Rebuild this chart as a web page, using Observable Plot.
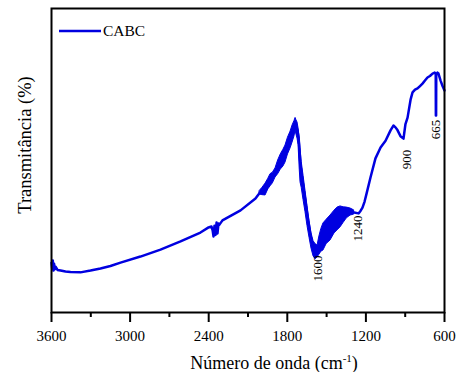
<!DOCTYPE html>
<html>
<head>
<meta charset="utf-8">
<script src="https://cdn.jsdelivr.net/npm/d3@7"></script>
<script src="https://cdn.jsdelivr.net/npm/@observablehq/plot@0.6"></script>
<style>
  html, body { margin: 0; padding: 0; background: #fff; }
  #chart { width: 459px; height: 372px; }
</style>
</head>
<body>
<div id="chart"></div>
<script>
// ---- Data ----
const seriesName = "CABC";
const wavenumber = [
  3600, 3595, 3590, 3585, 3580, 3575, 3569, 3554, 3531, 3493, 3455, 3379, 3302, 3226, 3150, 3073,
  2921, 2768, 2615, 2463, 2401, 2379, 2370, 2363, 2356, 2348, 2340, 2333, 2325, 2318, 2295, 2157,
  2043, 2010, 1966, 1928, 1890, 1850, 1814, 1775, 1760, 1737, 1722, 1714, 1705, 1699, 1690, 1676,
  1661, 1646, 1630, 1615, 1600, 1585, 1569, 1555, 1540, 1524, 1500, 1470, 1440, 1417, 1394, 1370,
  1345, 1317, 1290, 1256, 1240, 1226, 1210, 1195, 1165, 1127, 1088, 1050, 1012, 990,
  974, 959, 936, 913, 898, 882, 859, 844, 825, 806, 787, 768, 749, 730, 711, 691,
  675, 667, 666, 664, 663, 654, 646, 630, 615, 600
];
const transmittance = [
  16.4, 14.5, 17.1, 13.8, 16.0, 14.2, 15.1, 14.0, 13.8, 13.5, 13.3, 13.2, 13.8, 14.5, 15.3, 16.4,
  18.4, 20.7, 23.4, 26.3, 28.0, 28.3, 27.0, 25.0, 28.5, 25.5, 29.6, 26.0, 29.3, 28.9, 30.3, 33.6,
  37.5, 39.4, 40.4, 43.5, 45.9, 49.5, 52.1, 56.7, 58.7, 62.0, 59.8, 57.7, 52.0, 48.4, 45.2, 41.0,
  36.5, 31.7, 27.2, 23.5, 21.0, 20.0, 20.0, 22.0, 23.7, 24.8, 26.5, 27.8, 29.7, 30.7, 31.4, 32.0,
  32.7, 33.0, 32.9, 32.6, 33.5, 34.5, 36.5, 39.1, 44.4, 50.7, 54.3, 56.5, 59.9, 61.5,
  60.9, 60.0, 58.0, 57.2, 62.0, 64.1, 70.0, 72.4, 73.3, 73.7, 74.5, 75.3, 76.3, 77.3, 77.8, 78.6,
  78.9, 78.5, 64.8, 64.8, 78.3, 78.9, 78.6, 76.3, 74.5, 73.0
];
// Envelope of the noisy region (lower / upper transmittance)
const noiseWavenumber = [
  2010, 1990, 1966, 1945, 1928, 1910, 1890, 1870, 1850, 1830, 1814, 1795, 1775, 1760, 1745, 1737,
  1730, 1722, 1714, 1705, 1699, 1690, 1676, 1661, 1646, 1630, 1615, 1600, 1585, 1569, 1555, 1540,
  1524, 1500, 1470, 1440, 1417, 1394, 1370, 1345, 1317, 1290
];
const noiseLow = [
  38.8, 38.6, 38.5, 40.5, 41.5, 42.5, 44.4, 45.5, 47.0, 48.0, 49.3, 52.0, 54.0, 55.9, 58.0, 59.9,
  58.5, 57.2, 55.0, 47.0, 42.8, 41.0, 37.0, 33.0, 28.5, 24.5, 21.0, 18.5, 17.5, 18.1, 19.0, 20.0,
  20.4, 22.5, 23.7, 26.0, 27.0, 28.0, 29.5, 31.0, 31.9, 32.2
];
const noiseHigh = [
  40.0, 41.0, 42.4, 44.0, 45.5, 46.0, 47.4, 50.0, 52.0, 53.5, 54.9, 57.5, 59.5, 61.5, 63.0, 64.0,
  63.2, 62.5, 60.5, 57.0, 54.0, 49.5, 45.0, 40.0, 35.0, 30.0, 26.0, 23.5, 22.5, 22.0, 25.0, 27.5,
  29.3, 30.5, 31.9, 33.5, 34.5, 34.9, 34.6, 34.5, 34.2, 33.6
];
const majorTicks = [3600, 3000, 2400, 1800, 1200, 600];
const minorTicks = [3300, 2700, 2100, 1500, 900];
const annLabels = ["1600", "1240", "900", "665"];
const annX = [1565, 1265, 890, 668];
const annY = [14.5, 27.6, 50.3, 60.2];

const data = wavenumber.map((w, i) => ({w, t: transmittance[i]}));
const band = noiseWavenumber.map((w, i) => ({w, lo: noiseLow[i], hi: noiseHigh[i]}));
const ann = annLabels.map((s, i) => ({label: s, x: annX[i], y: annY[i]}));

const blue = "#0000e0";

const chart = Plot.plot({
  width: 459,
  height: 372,
  marginLeft: 51,
  marginRight: 15,
  marginTop: 8,
  marginBottom: 60,
  style: {fontFamily: "'Liberation Serif', 'Times New Roman', serif", fontSize: "15px", background: "white", color: "black"},
  x: {domain: [3600, 600], label: null},
  y: {domain: [0, 100], axis: null},
  marks: [
    Plot.axisX({ticks: majorTicks, tickSize: 10, tickPadding: 8, strokeWidth: 2, tickFormat: d => String(d), label: null, fontSize: 15}),
    Plot.axisX({ticks: minorTicks, tickSize: 5, strokeWidth: 2, tickFormat: () => "", label: null}),
    Plot.areaY(band, {x: "w", y1: "lo", y2: "hi", fill: blue, stroke: blue, strokeWidth: 1}),
    Plot.line(data, {x: "w", y: "t", stroke: blue, strokeWidth: 2.5, strokeLinejoin: "round"}),
    Plot.text(ann, {x: "x", y: "y", text: "label", rotate: -90, fontSize: 13, fill: "black", textAnchor: "middle", lineAnchor: "middle"}),
    Plot.frame({stroke: "black", strokeWidth: 2})
  ]
});

const svg = d3.select(chart);
// Legend
svg.append("line").attr("x1", 59).attr("x2", 101).attr("y1", 31).attr("y2", 31)
  .attr("stroke", blue).attr("stroke-width", 2.5);
svg.append("text").attr("x", 103).attr("y", 31).attr("dy", "0.35em").attr("text-anchor", "start")
  .attr("font-size", 15.5).attr("fill", "black").text(seriesName);
// Y label
svg.append("text").attr("transform", "translate(25,145) rotate(-90)")
  .attr("text-anchor", "middle").attr("dy", "0.35em").attr("font-size", 18.5)
  .attr("fill", "black").text("Transmitância (%)");
// X label with superscript
const xl = svg.append("text").attr("x", 274).attr("y", 369).attr("text-anchor", "middle")
  .attr("font-size", 18).attr("fill", "black");
xl.append("tspan").text("Número de onda (cm");
xl.append("tspan").attr("font-size", 11).attr("dy", -7).text("-1");
xl.append("tspan").attr("dy", 7).text(")");

document.getElementById("chart").appendChild(chart);
</script>
</body>
</html>
